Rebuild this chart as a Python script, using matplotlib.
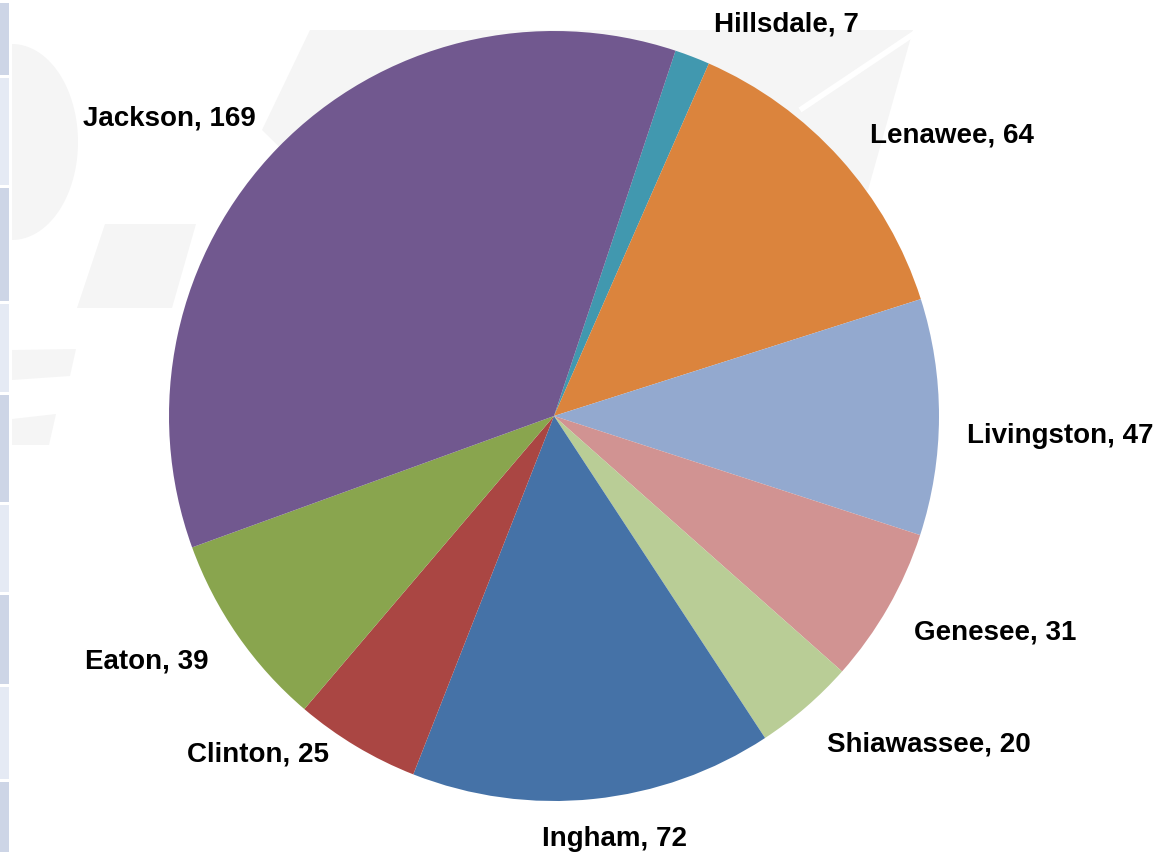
import matplotlib
matplotlib.use("Agg")
import matplotlib.pyplot as plt
from matplotlib.patches import Polygon, Rectangle
import numpy as np

# County case counts, in drawing order (clockwise from the top)
counties = ["Hillsdale", "Lenawee", "Livingston", "Genesee", "Shiawassee",
            "Ingham", "Clinton", "Eaton", "Jackson"]
counts = [7, 64, 47, 31, 20, 72, 25, 39, 169]
colors = ["#4198AF", "#DB843D", "#93A9CF", "#D19392", "#B9CD96",
          "#4572A7", "#AA4643", "#89A54E", "#71588F"]

W, H = 1174, 852
CX, CY, R = 554, 416, 385          # pie centre / radius in pixels (y from top)
LABEL_DIST = 1.12
# per-label fine placement (dx, dy) in pixels, dy positive = downwards
label_nudge = [(5, 11), (-5, 8), (-18, 19), (-14, 2), (-9, 2),
               (16, -6), (-3, -31), (9, 0), (11, 3)]
label_align = ["left", "left", "left", "left", "left",
               "center", "right", "right", "right"]

plt.rcParams["font.family"] = ["Liberation Sans", "DejaVu Sans"]

fig = plt.figure(figsize=(W / 100, H / 100), dpi=100)
ax = fig.add_axes([0, 0, 1, 1])


def fy(y):
    return H - y


# faint background watermark shapes
wm = "#F5F5F5"
t = np.linspace(-np.pi / 2, np.pi / 2, 60)
d_shape = [(12 + 66 * np.cos(a), fy(142 - 98 * np.sin(a))) for a in t]
ax.add_patch(Polygon(d_shape, closed=True, facecolor=wm, edgecolor="none", zorder=0))
ax.add_patch(Polygon([(105, fy(224)), (196, fy(224)), (172, fy(308)), (77, fy(308))],
                     closed=True, facecolor=wm, edgecolor="none", zorder=0))
ax.add_patch(Polygon([(12, fy(350)), (76, fy(349)), (70, fy(376)), (12, fy(380))],
                     closed=True, facecolor=wm, edgecolor="none", zorder=0))
ax.add_patch(Polygon([(12, fy(419)), (56, fy(414)), (49, fy(445)), (12, fy(445))],
                     closed=True, facecolor=wm, edgecolor="none", zorder=0))
ax.add_patch(Polygon([(310, fy(30)), (913, fy(30)), (868, fy(190)), (554, fy(416)),
                      (262, fy(130))],
                     closed=True, facecolor=wm, edgecolor="none", zorder=0))
ax.plot([800, 915], [fy(110), fy(33)], color="white", lw=4, zorder=0.5,
        solid_capstyle="butt")

# left-hand strip of alternating cells
strip_edges = [0, 75, 185, 301, 392, 502, 592, 684, 779, 852]
strip_cols = ["#CDD5E6", "#E5EAF4"]
for i in range(len(strip_edges) - 1):
    y0, y1 = strip_edges[i], strip_edges[i + 1]
    ax.add_patch(Rectangle((0, fy(y1)), 9, (y1 - y0) - 2.5,
                           facecolor=strip_cols[i % 2], edgecolor="none", zorder=1))

wedges, _ = ax.pie(counts, colors=colors, startangle=71.6, counterclock=False,
                   center=(CX, fy(CY)), radius=R,
                   wedgeprops=dict(linewidth=0, antialiased=True))
for w in wedges:
    w.set_zorder(2)

for w, name, n, (dx, dy), ha in zip(wedges, counties, counts, label_nudge, label_align):
    mid = np.deg2rad((w.theta1 + w.theta2) / 2)
    x = CX + LABEL_DIST * R * np.cos(mid) + dx
    y = fy(CY) + LABEL_DIST * R * np.sin(mid) - dy
    ax.text(x, y, f"{name}, {n}", ha=ha, va="center", fontsize=20,
            fontweight="bold", color="black", zorder=3)

ax.set_xlim(0, W)
ax.set_ylim(0, H)
ax.set_aspect("equal")
ax.axis("off")

fig.savefig("out.png", dpi=100, facecolor="white")
